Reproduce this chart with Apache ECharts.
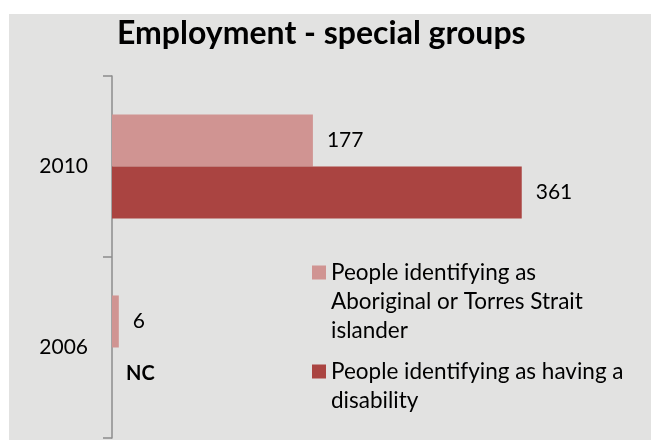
<!DOCTYPE html>
<html>
<head>
<meta charset="utf-8">
<script src="https://cdn.jsdelivr.net/npm/echarts@6/dist/echarts.min.js"></script>
<style>
  html, body { margin: 0; padding: 0; background: #ffffff; }
  #chart { width: 651px; height: 440px; }
</style>
</head>
<body>
<div id="chart"></div>
<script>
// Survey years, top to bottom
const years = ['2010', '2006'];
// Headcounts per group; null = not collected ("NC")
const aboriginal = [177, 6];
const disability = [361, null];
const groupNames = [
  'People identifying as\nAboriginal or Torres Strait\nislander',
  'People identifying as having a\ndisability'
];
const xMax = 400;

const FONT = 'Lato, "Open Sans", sans-serif';
const labelText = { fontFamily: FONT, fontSize: 21, color: '#000' };
const LEGEND_LINE = 29;

const disabilityData = disability.map(v => v == null
  ? { value: 0, label: { formatter: 'NC', fontWeight: 'bold', fontSize: 20 } }
  : v);

// Square swatch pinned to the first text line of a multi-line legend entry:
// the icon box spans every line, the square sits in the first one.
function swatch(lines) {
  const h = lines * LEGEND_LINE;
  const y0 = (LEGEND_LINE - 14) / 2;
  return 'path://M0,0L0,0M0,' + y0 + 'h14v14h-14zM14,' + h + 'L14,' + h;
}

function legendFor(i, lines, top) {
  return {
    orient: 'vertical',
    left: 312,
    top: top,
    padding: 0,
    itemWidth: 14,
    itemHeight: lines * LEGEND_LINE,
    itemGap: 0,
    data: [{ name: groupNames[i], icon: swatch(lines) }],
    textStyle: { fontFamily: FONT, fontSize: 22.5, color: '#000', lineHeight: LEGEND_LINE }
  };
}

const chart = echarts.init(document.getElementById('chart'), null, { renderer: 'canvas' });
chart.setOption({
  animation: false,
  backgroundColor: '#ffffff',
  graphic: [{
    type: 'rect', left: 9, top: 14, z: -10,
    shape: { width: 642, height: 426 },
    style: { fill: '#e2e2e1' }
  }],
  title: {
    text: 'Employment - special groups',
    left: 117,
    top: 18,
    padding: 0,
    textStyle: { fontFamily: FONT, fontSize: 32, fontWeight: 'bold', color: '#000' }
  },
  legend: [
    legendFor(0, 3, 258),
    legendFor(1, 2, 357)
  ],
  grid: { left: 112, top: 76, width: 454, height: 362, containLabel: false },
  xAxis: {
    type: 'value', min: 0, max: xMax, show: false
  },
  yAxis: {
    type: 'category',
    data: years,
    inverse: true,
    axisLine: { show: true, lineStyle: { color: '#8c8c8c', width: 1.5 } },
    axisTick: { show: true, length: 9, lineStyle: { color: '#8c8c8c', width: 1.5 } },
    axisLabel: Object.assign({ margin: 24 }, labelText),
    splitLine: { show: false }
  },
  series: [
    {
      name: groupNames[0],
      type: 'bar',
      data: aboriginal,
      itemStyle: { color: '#d09492' },
      barGap: '0%',
      barCategoryGap: '42.5%',
      label: Object.assign({ show: true, position: 'right', distance: 14 }, labelText)
    },
    {
      name: groupNames[1],
      type: 'bar',
      data: disabilityData,
      itemStyle: { color: '#aa4441' },
      barGap: '0%',
      barCategoryGap: '42.5%',
      label: Object.assign({ show: true, position: 'right', distance: 14 }, labelText)
    }
  ]
});
</script>
</body>
</html>
